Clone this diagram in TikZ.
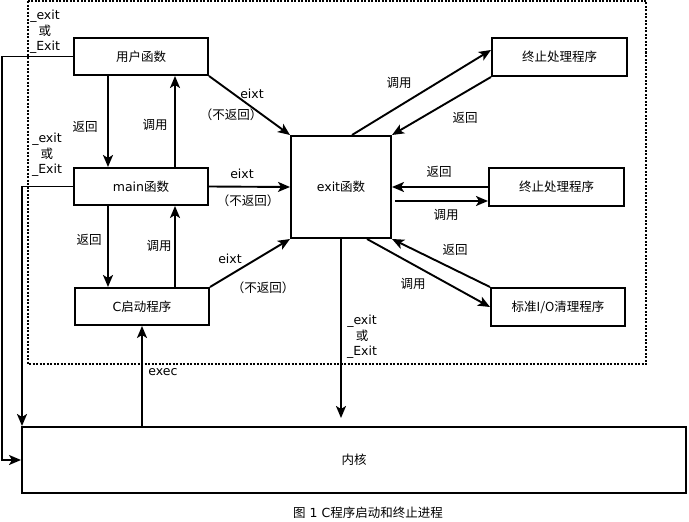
\documentclass[tikz,border=0pt]{standalone}
\usepackage{fontspec}
\setmainfont{DejaVu Sans}
\newfontfamily\cjk{Noto Sans CJK SC}
\usetikzlibrary{arrows.meta,calc}
\begin{document}
\begin{tikzpicture}[x=1pt,y=-1pt,
  every node/.style={font=\fontsize{12.5}{15.5}\selectfont},
  blk/.style={draw,line width=2pt,rectangle,inner sep=0pt,fill=white},
  arr/.style={line width=1.9pt,-{Stealth[length=12pt,width=10pt,inset=3pt]}},
  lbl/.style={inner sep=0pt,align=center}]
\useasboundingbox[fill=white] (0,0) rectangle (689,522);

% process frame
\draw[line width=2pt,dash pattern=on 2pt off 1.5pt] (28,1) rectangle (646,364);

% blocks
\node[blk,minimum width=134pt,minimum height=37pt] (user) at (141,56.5) {\cjk 用户函数};
\node[blk,minimum width=134pt,minimum height=37pt] (main) at (141,186.5) {main\cjk 函数};
\node[blk,minimum width=134pt,minimum height=37pt] (cstart) at (142,306.5) {C\cjk 启动程序};
\node[blk,minimum width=100pt,minimum height=102pt] (exitf) at (341,187) {exit\cjk 函数};
\node[blk,minimum width=135pt,minimum height=38pt] (h1) at (559.5,57) {\cjk 终止处理程序};
\node[blk,minimum width=135pt,minimum height=38pt] (h2) at (556.5,187) {\cjk 终止处理程序};
\node[blk,minimum width=134pt,minimum height=38pt] (io) at (558,307) {\cjk 标准I/O清理程序};
\node[blk,minimum width=664pt,minimum height=66pt] (kernel) at (354,460) {\cjk 内核};

% helper columns
\coordinate (cl) at (108,0);
\coordinate (cr) at (175,0);
\coordinate (lx) at (2,0);

% user function <-> main
\draw[arr] (user.south -| cl) -- (main.north -| cl);
\draw[arr] (main.north -| cr) -- (user.south -| cr);
% main <-> C startup
\draw[arr] (main.south -| cl) -- (cstart.north -| cl);
\draw[arr] (cstart.north -| cr) -- (main.south -| cr);

% exit calls
\draw[arr] (user.south east) -- (exitf.north west);
\draw[arr] (main.east) -- (exitf.west);
\draw[arr] (cstart.north east) -- (exitf.south west);

% exit handlers
\draw[arr] ([xshift=11pt]exitf.north) -- ([yshift=7pt]h1.west);
\draw[arr] (h1.south west) -- (exitf.north east);
\draw[arr] (h2.west) -- (exitf.east);
\draw[arr] ([xshift=3pt,yshift=-14pt]exitf.east) -- ([yshift=-14pt]h2.west);
\draw[arr] (io.north west) -- (exitf.south east);
\draw[arr] ([xshift=-25pt]exitf.south east) -- (io.west);

% to and from the kernel
\draw[arr] (exitf.south) -- ([yshift=8pt]kernel.north -| exitf.south);
\draw[arr] (kernel.north -| cstart.south) -- (cstart.south);
\draw[arr] (user.west) -- (user.west -| lx) |- (kernel.west);
\draw[arr] (main.west) -| ([xshift=1pt]kernel.north west);

% labels
\node[lbl] (t1) at (45,32) {\_exit\\{\cjk 或}\\\_Exit};
\node[lbl] (t2) at (47,155) {\_exit\\{\cjk 或}\\\_Exit};
\node[lbl] (t3) at (362,337) {\_exit\\{\cjk 或}\\\_Exit};
\node[lbl] (r1) at (85,127) {\cjk 返回};
\node[lbl] (c1) at (155,125) {\cjk 调用};
\node[lbl] (r2) at (89,240) {\cjk 返回};
\node[lbl] (c2) at (159,246) {\cjk 调用};
\node[lbl] (e1) at (252,94) {eixt};
\node[lbl] (n1) at (231,115) {\cjk （不返回）};
\node[lbl] (e2) at (242,174) {eixt};
\node[lbl] (n2) at (248,201) {\cjk （不返回）};
\node[lbl] (e3) at (230,259) {eixt};
\node[lbl] (n3) at (263,288) {\cjk （不返回）};
\node[lbl] (c3) at (399,83) {\cjk 调用};
\node[lbl] (r3) at (465,118) {\cjk 返回};
\node[lbl] (r4) at (439,172) {\cjk 返回};
\node[lbl] (c4) at (446,215) {\cjk 调用};
\node[lbl] (r5) at (455,250) {\cjk 返回};
\node[lbl] (c5) at (413,284) {\cjk 调用};
\node[lbl] (ex) at (163,372) {exec};
\node[lbl] (cap) at (368,513) {{\cjk 图} 1 C{\cjk 程序启动和终止进程}};
\end{tikzpicture}
\end{document}
